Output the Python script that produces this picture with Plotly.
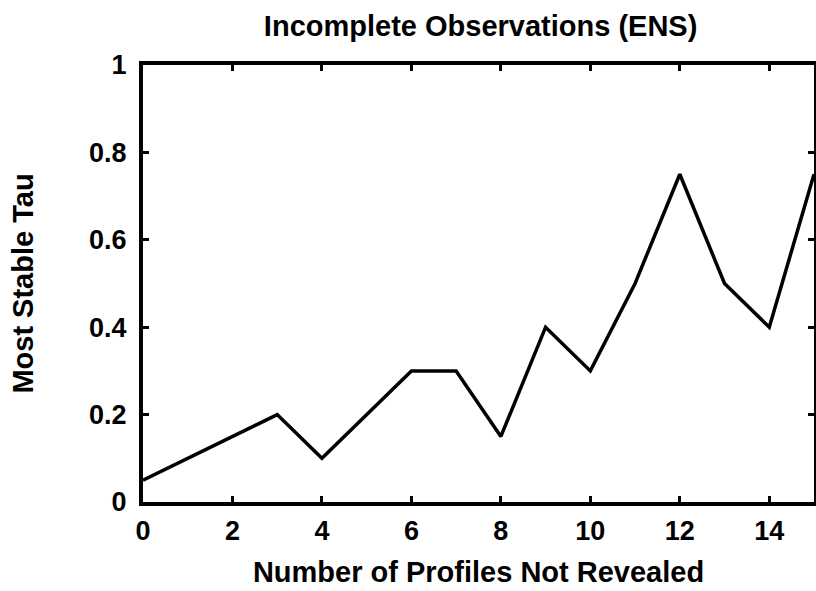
import plotly.graph_objects as go

# Values
profiles_hidden = [0, 1, 2, 3, 4, 5, 6, 7, 8, 9, 10, 11, 12, 13, 14, 15]
stable_tau = [0.05, 0.1, 0.15, 0.2, 0.1, 0.2, 0.3, 0.3, 0.15, 0.4, 0.3, 0.5, 0.75, 0.5, 0.4, 0.75]

x_ticks = [0, 2, 4, 6, 8, 10, 12, 14]
y_ticks = [0, 0.2, 0.4, 0.6, 0.8, 1]
y_labels = ["0", "0.2", "0.4", "0.6", "0.8", "1"]

_FONT = "Liberation Sans, Arial, Helvetica, sans-serif"

fig = go.Figure()
fig.add_scatter(x=profiles_hidden, y=stable_tau, mode="lines",
                line={"color": "black", "width": 3.5}, showlegend=False)

axis_common = {
    "showgrid": False,
    "zeroline": False,
    "showline": True,
    "linecolor": "black",
    "linewidth": 4,
    "mirror": "allticks",
    "ticks": "inside",
    "ticklen": 6,
    "tickwidth": 3,
    "tickcolor": "black",
    "automargin": False,
    "tickfont": {"family": _FONT, "size": 27, "color": "black", "weight": "bold"},
}

fig.update_xaxes(range=[0, 15], tickvals=x_ticks, ticklabelstandoff=2,
                 title={"text": "<b>Number of Profiles Not Revealed</b>",
                        "font": {"family": _FONT, "size": 29, "color": "black"},
                        "standoff": 17},
                 **axis_common)
fig.update_yaxes(range=[0, 1], tickvals=y_ticks, ticktext=y_labels, ticklabelstandoff=7,
                 title={"text": "<b>Most Stable Tau</b>",
                        "font": {"family": _FONT, "size": 29, "color": "black"},
                        "standoff": 48},
                 **axis_common)

fig.update_layout(
    width=816, height=591,
    paper_bgcolor="white", plot_bgcolor="white",
    margin={"l": 143, "r": 2, "t": 65, "b": 89},
    title={"text": "<b>Incomplete Observations (ENS)</b>",
           "font": {"family": _FONT, "size": 29, "color": "black"},
           "x": 0.589, "xanchor": "center", "y": 0.956, "yanchor": "middle"},
)

# drop the default page margin so the 816x591 figure fills the window exactly
fig.write_html("out.html", config={"displayModeBar": False},
               post_script="document.body.style.margin = '0';")
